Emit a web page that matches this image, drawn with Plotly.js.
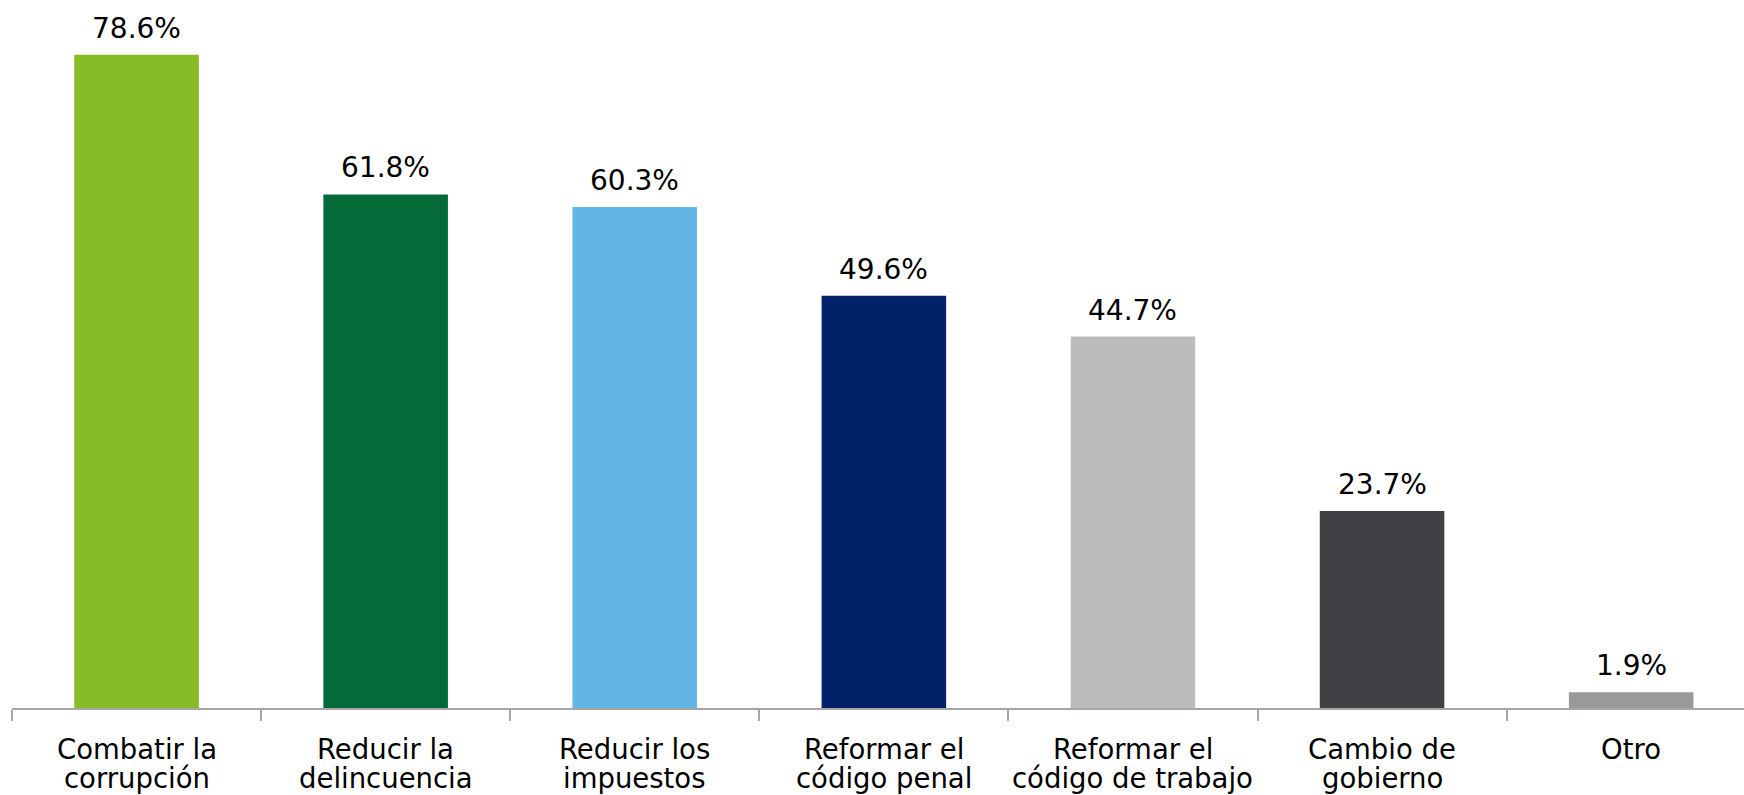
<!DOCTYPE html>
<html>
<head>
<meta charset="utf-8">
<script src="https://cdn.plot.ly/plotly-3.0.1.min.js"></script>
<style>html,body{margin:0;padding:0;background:#fff;overflow:hidden}#chart{width:1744px;height:795px}</style>
</head>
<body>
<div id="chart"></div>
<script>
const categories = ["Combatir la corrupción","Reducir la delincuencia","Reducir los impuestos","Reformar el código penal","Reformar el código de trabajo","Cambio de gobierno","Otro"];
const labelLine1 = ["Combatir la","Reducir la","Reducir los","Reformar el","Reformar el","Cambio de","Otro"];
const labelLine2 = ["corrupción","delincuencia","impuestos","código penal","código de trabajo","gobierno",""];
const values = [78.6, 61.8, 60.3, 49.6, 44.7, 23.7, 1.9];
const valueLabels = ["78.6%","61.8%","60.3%","49.6%","44.7%","23.7%","1.9%"];
const barColors = ["#86BC25","#046A38","#62B5E5","#012169","#BBBCBC","#404145","#97999B"];

const FONT = "DejaVu Sans, Verdana, sans-serif";

const trace = {
  type: "bar",
  x: categories,
  y: values,
  width: 0.5,
  marker: {color: barColors},
  hoverinfo: "skip"
};

const annotations = [];
categories.forEach((c, i) => {
  annotations.push({
    x: c, y: values[i], xref: "x", yref: "y",
    text: valueLabels[i], showarrow: false,
    xanchor: "center", yanchor: "bottom", yshift: 8,
    font: {family: FONT, size: 28, color: "#000"}
  });
  annotations.push({
    x: c, y: 0, xref: "x", yref: "paper",
    text: labelLine1[i], showarrow: false,
    xanchor: "center", yanchor: "top", yshift: -23,
    font: {family: FONT, size: 27.5, color: "#000"}
  });
  if (labelLine2[i]) {
    annotations.push({
      x: c, y: 0, xref: "x", yref: "paper",
      text: labelLine2[i], showarrow: false,
      xanchor: "center", yanchor: "top", yshift: -52,
      font: {family: FONT, size: 27.5, color: "#000"}
    });
  }
});

const layout = {
  width: 1744, height: 795,
  margin: {l: 12, r: 0, t: 0, b: 87, pad: 0},
  paper_bgcolor: "#fff", plot_bgcolor: "#fff",
  showlegend: false,
  xaxis: {
    type: "category",
    range: [-0.5, 6.453],
    showline: true, linecolor: "#a6a6a6", linewidth: 2,
    ticks: "outside", tickson: "boundaries", ticklen: 11, tickwidth: 2, tickcolor: "#a6a6a6",
    showticklabels: false, showgrid: false, zeroline: false, fixedrange: true
  },
  yaxis: {
    range: [0, 85.2],
    visible: false, showgrid: false, zeroline: false, fixedrange: true
  },
  annotations: annotations,
  font: {family: FONT}
};

Plotly.newPlot("chart", [trace], layout, {displayModeBar: false, staticPlot: true});
</script>
</body>
</html>
